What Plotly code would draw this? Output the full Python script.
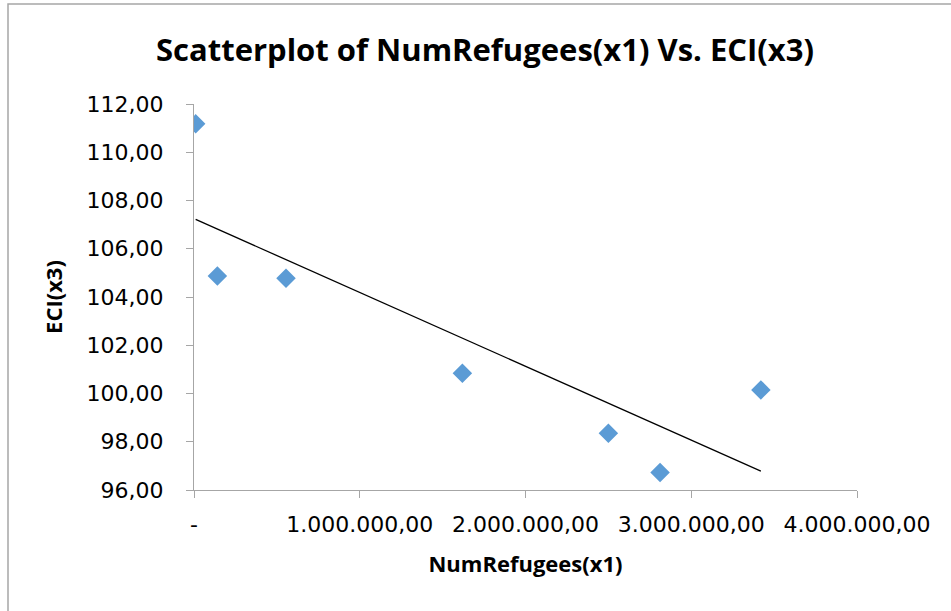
import numpy as np
import plotly.graph_objects as go

# ---- data ----
num_refugees = [10000, 141000, 555000, 1619000, 2500000, 2812000, 3420000]
eci = [111.18, 104.87, 104.78, 100.84, 98.35, 96.73, 100.15]

x_tick_vals = [0, 1000000, 2000000, 3000000, 4000000]
x_tick_text = ["-", "1.000.000,00", "2.000.000,00", "3.000.000,00", "4.000.000,00"]
y_tick_vals = [96, 98, 100, 102, 104, 106, 108, 110, 112]
y_tick_text = ["96,00", "98,00", "100,00", "102,00", "104,00", "106,00", "108,00", "110,00", "112,00"]

title_text = "Scatterplot of NumRefugees(x1) Vs. ECI(x3)"
x_title = "NumRefugees(x1)"
y_title = "ECI(x3)"

# linear trendline (least squares) from the data
slope, intercept = np.polyfit(num_refugees, eci, 1)
trend_x = [min(num_refugees), max(num_refugees)]
trend_y = [slope * v + intercept for v in trend_x]

W, H = 951, 611
L, R, T, B = 194, 94, 104, 121

fig = go.Figure()
fig.add_trace(go.Scatter(
    x=trend_x, y=trend_y, mode="lines",
    line=dict(color="black", width=1.3), hoverinfo="skip", showlegend=False,
))
fig.add_trace(go.Scatter(
    x=num_refugees, y=eci, mode="markers",
    marker=dict(symbol="diamond", size=15, color="#5B9BD5", line=dict(width=0)),
    showlegend=False,
))

axis_col = "#A6A6A6"
fig.update_layout(
    width=W, height=H,
    margin=dict(l=L, r=R, t=T, b=B),
    paper_bgcolor="white", plot_bgcolor="white",
    title=dict(text=title_text, x=485 / W, xanchor="center", xref="container",
               y=1 - 50 / H, yanchor="middle", yref="container",
               font=dict(family="Open Sans", size=31, color="black", weight="bold")),
    font=dict(family="DejaVu Sans", color="black"),
    xaxis=dict(
        range=[0, 4000000], tickmode="array", tickvals=x_tick_vals, ticktext=x_tick_text,
        showgrid=False, zeroline=False, showline=True, linecolor=axis_col, linewidth=1,
        ticks="outside", ticklen=7, tickcolor=axis_col, tickwidth=1,
        tickfont=dict(family="DejaVu Sans", size=22, color="black"),
        ticklabelstandoff=8,
        title=dict(text=x_title, standoff=20,
                   font=dict(family="Open Sans", size=22, color="black", weight="bold")),
        fixedrange=True,
    ),
    yaxis=dict(
        range=[96, 112], tickmode="array", tickvals=y_tick_vals, ticktext=y_tick_text,
        showgrid=False, zeroline=False, showline=True, linecolor=axis_col, linewidth=1,
        ticks="outside", ticklen=7, tickcolor=axis_col, tickwidth=1,
        tickfont=dict(family="DejaVu Sans", size=22, color="black"),
        ticklabelstandoff=18,
        title=dict(text=y_title, standoff=17,
                   font=dict(family="Open Sans", size=22, color="black", weight="bold")),
        fixedrange=True,
    ),
    shapes=[dict(
        type="rect", xref="paper", yref="paper",
        x0=(8 - L) / (W - L - R), x1=1.3,
        y0=-0.5, y1=(H - B - 4) / (H - T - B),
        line=dict(color="#A6A6A6", width=1.5), fillcolor="rgba(0,0,0,0)", layer="below",
    )],
)

fig.write_html("out.html")
